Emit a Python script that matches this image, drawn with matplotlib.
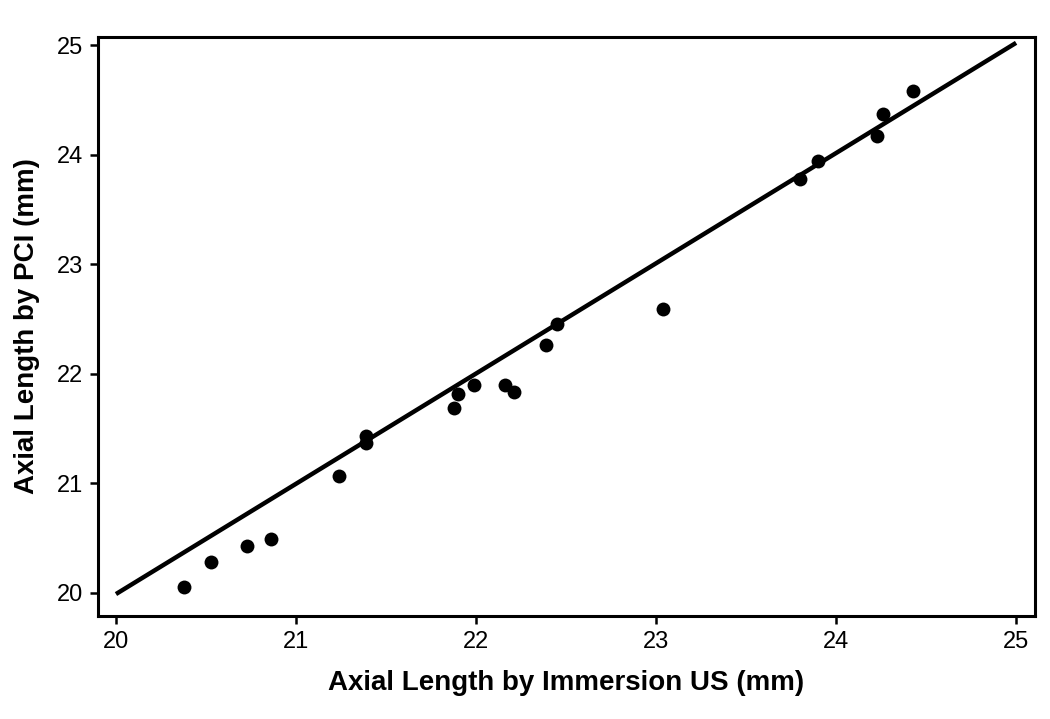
import numpy as np
import matplotlib.pyplot as plt

plt.rcParams['font.family'] = ['Liberation Sans', 'DejaVu Sans']

# axial length measurements (mm)
immersion_us = [20.38, 20.53, 20.73, 20.86, 21.24, 21.39, 21.39, 21.88, 21.90, 21.99,
                22.16, 22.21, 22.39, 22.45, 23.04, 23.80, 23.90, 24.23, 24.26, 24.43]
pci = [20.05, 20.28, 20.43, 20.49, 21.07, 21.43, 21.37, 21.69, 21.82, 21.90,
       21.90, 21.83, 22.26, 22.45, 22.59, 23.78, 23.94, 24.17, 24.37, 24.58]
line_x = [20.0, 25.0]
line_y = [19.99, 25.02]
ticks = [20, 21, 22, 23, 24, 25]

fig = plt.figure(figsize=(10.5, 7.19), dpi=100)
ax = fig.add_axes([0.0933, 0.1433, 0.8924, 0.8052])

ax.plot(line_x, line_y, color='black', linewidth=3.2, solid_capstyle='butt')
ax.scatter(immersion_us, pci, s=100, color='black', zorder=3, linewidths=0)

ax.set_xlim(19.9, 25.105)
ax.set_ylim(19.79, 25.073)
ax.set_xticks(ticks)
ax.set_yticks(ticks)
ax.tick_params(labelsize=17, width=1.8, length=6, direction='out', pad=5)
for s in ax.spines.values():
    s.set_linewidth(2.2)

ax.set_xlabel('Axial Length by Immersion US (mm)', fontsize=20, fontweight='bold', labelpad=12)
ax.set_ylabel('Axial Length by PCI (mm)', fontsize=20, fontweight='bold', labelpad=12)

fig.savefig('out.png', dpi=100)
